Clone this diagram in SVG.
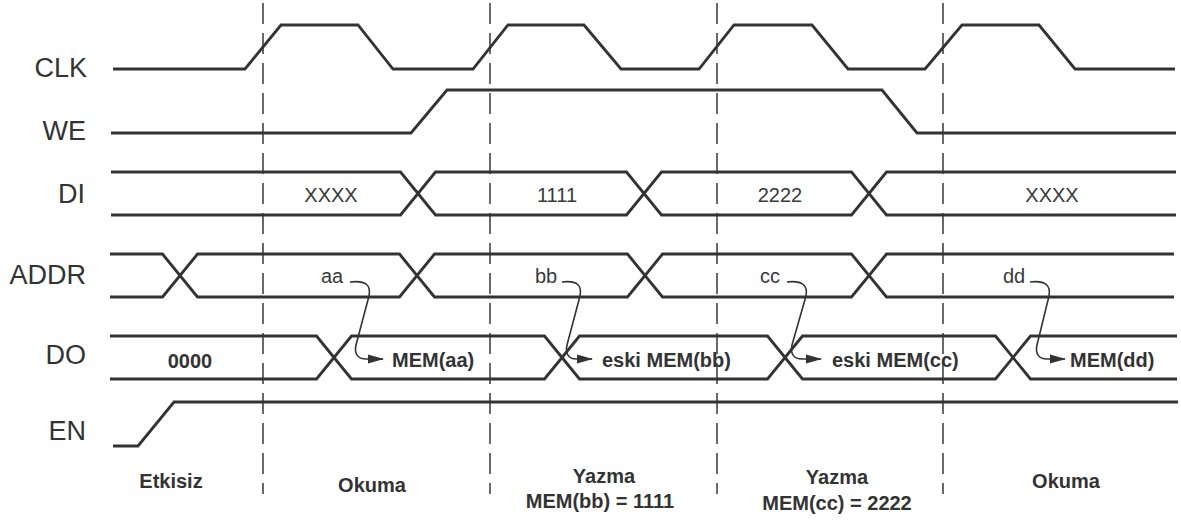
<svg xmlns="http://www.w3.org/2000/svg" width="1181" height="522" viewBox="0 0 1181 522">
<style>
.sig{fill:none;stroke:#333;stroke-width:2.8;stroke-linejoin:miter}
.dash{fill:none;stroke:#444;stroke-width:1.6;stroke-dasharray:21 9}
.lbl{font-family:"Liberation Sans",Arial,sans-serif;font-size:27px;fill:#333;text-anchor:end}
.val{font-family:"Liberation Sans",Arial,sans-serif;font-size:20px;fill:#3a3a3a;text-anchor:middle}
.bold{font-family:"Liberation Sans",Arial,sans-serif;font-size:20px;font-weight:bold;fill:#333}
.ph{font-family:"Liberation Sans",Arial,sans-serif;font-size:20px;font-weight:bold;fill:#333;text-anchor:middle}
.arr{fill:none;stroke:#333;stroke-width:1.6}
</style>
<defs>
<marker id="ah" markerWidth="16" markerHeight="10" refX="15" refY="5" orient="auto" markerUnits="userSpaceOnUse">
<path d="M0,0.5 L16,5 L0,9.5 Z" fill="#333"/>
</marker>
</defs>
<g id="dividers">
<line class="dash" x1="263" y1="3" x2="263" y2="494"/>
<line class="dash" x1="490" y1="3" x2="490" y2="494"/>
<line class="dash" x1="717" y1="3" x2="717" y2="494"/>
<line class="dash" x1="943" y1="3" x2="943" y2="494"/>
</g>
<g id="CLK">
<text class="lbl" x="87" y="77">CLK</text>
<path class="sig" d="M113,69 H245 L281,25 H358 L393,69 H473 L508,25 H584 L621,69 H699 L734,25 H812 L848,69 H925 L962,25 H1039 L1075,69 H1175"/>
</g>
<g id="WE">
<text class="lbl" x="86" y="140">WE</text>
<path class="sig" d="M111,133 H411 L447,90 H882 L917,133 H1176"/>
</g>
<g id="DI">
<text class="lbl" x="85" y="203">DI</text>
<path class="sig" d="M111,172 H400.5 L435.5,215 H626.5 L661.5,172 H851.5 L886.5,215 H1176"/>
<path class="sig" d="M111,215 H400.5 L435.5,172 H626.5 L661.5,215 H851.5 L886.5,172 H1176"/>
<text class="val" x="331" y="202">XXXX</text>
<text class="val" x="557" y="202">1111</text>
<text class="val" x="780" y="202">2222</text>
<text class="val" x="1052" y="202">XXXX</text>
</g>
<g id="ADDR">
<text class="lbl" x="86" y="284">ADDR</text>
<path class="sig" d="M110,254 H162.5 L197.5,297 H399.5 L434.5,254 H627.5 L662.5,297 H851.5 L886.5,254 H1174"/>
<path class="sig" d="M110,297 H162.5 L197.5,254 H399.5 L434.5,297 H627.5 L662.5,254 H851.5 L886.5,297 H1174"/>
<text class="val" x="332" y="283">aa</text>
<text class="val" x="546" y="283">bb</text>
<text class="val" x="770" y="283">cc</text>
<text class="val" x="1014" y="283">dd</text>
</g>
<g id="DO">
<text class="lbl" x="86" y="364">DO</text>
<path class="sig" d="M110,336 H316.5 L351.5,379 H544.5 L579.5,336 H767.5 L802.5,379 H995.5 L1030.5,336 H1177"/>
<path class="sig" d="M110,379 H316.5 L351.5,336 H544.5 L579.5,379 H767.5 L802.5,336 H995.5 L1030.5,379 H1177"/>
<text class="bold" x="190" y="368" text-anchor="middle">0000</text>
<text class="bold" x="392" y="367">MEM(aa)</text>
<text class="bold" x="602" y="367">eski MEM(bb)</text>
<text class="bold" x="832" y="367">eski MEM(cc)</text>
<text class="bold" x="1070" y="367">MEM(dd)</text>
</g>
<g id="EN">
<text class="lbl" x="86" y="440">EN</text>
<path class="sig" d="M113,446 H138 L174,402 H1178"/>
</g>
<g id="connectors">
<path class="arr" marker-end="url(#ah)" d="M350,282 C367,280 371,286 369,296 L356,345 C354,354 358,359 366,359 L383,359"/>
<path class="arr" marker-end="url(#ah)" d="M562,282 C578,280 582,286 580,296 L567,345 C565,354 569,359 576,359 L592,359"/>
<path class="arr" marker-end="url(#ah)" d="M787,282 C803,280 808,286 806,296 L792,345 C790,354 794,359 802,359 L821,359"/>
<path class="arr" marker-end="url(#ah)" d="M1030,282 C1046,280 1051,286 1049,296 L1037,345 C1035,354 1039,359 1047,359 L1065,359"/>
</g>
<g id="phases">
<text class="ph" x="171" y="488">Etkisiz</text>
<text class="ph" x="372" y="492">Okuma</text>
<text class="ph" x="604" y="483">Yazma</text>
<text class="ph" x="600" y="508">MEM(bb) = 1111</text>
<text class="ph" x="837" y="484">Yazma</text>
<text class="ph" x="837" y="510">MEM(cc) = 2222</text>
<text class="ph" x="1066" y="488">Okuma</text>
</g>
</svg>
